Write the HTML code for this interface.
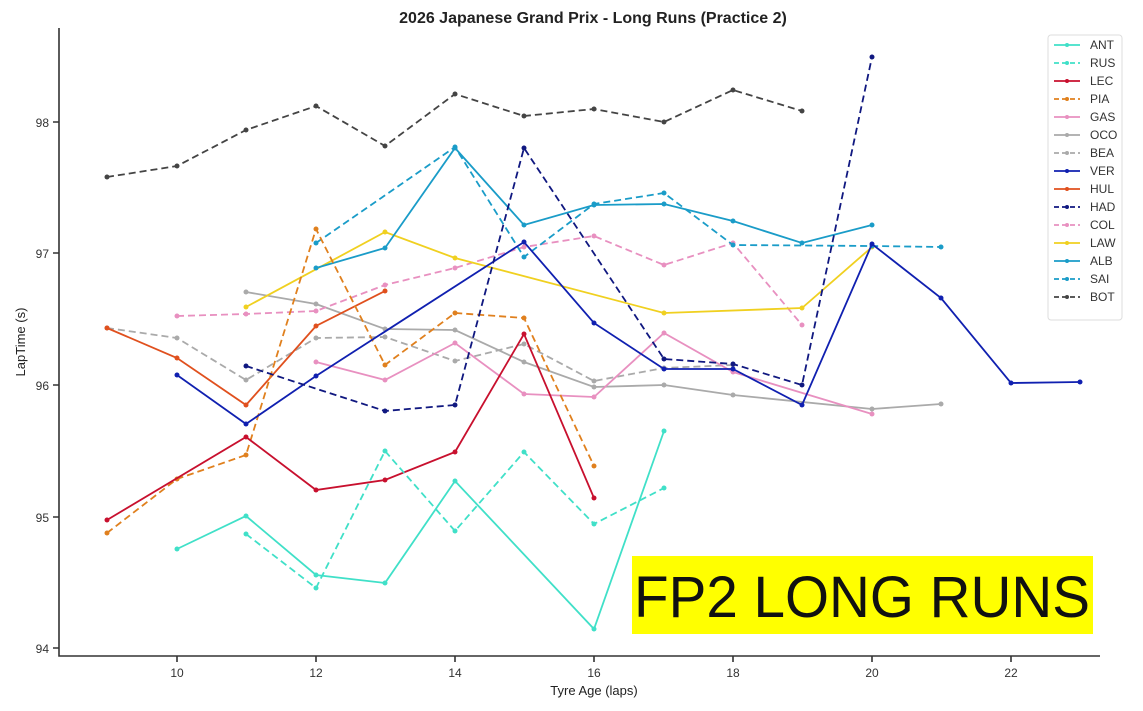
<!DOCTYPE html><html><head><style>body{margin:0;background:#fff}svg{display:block;font-family:"Liberation Sans",sans-serif}</style></head><body>
<svg width="1143" height="711" xmlns="http://www.w3.org/2000/svg">
<defs>
<marker id="m1" viewBox="0 0 6 6" refX="3" refY="3" markerWidth="6" markerHeight="6" markerUnits="userSpaceOnUse"><circle cx="3" cy="3" r="2.5" fill="#444"/></marker>
<marker id="m2" viewBox="0 0 6 6" refX="3" refY="3" markerWidth="6" markerHeight="6" markerUnits="userSpaceOnUse"><circle cx="3" cy="3" r="2.5" fill="#aaa"/></marker>
<marker id="m3" viewBox="0 0 6 6" refX="3" refY="3" markerWidth="6" markerHeight="6" markerUnits="userSpaceOnUse"><circle cx="3" cy="3" r="2.5" fill="#e890c0"/></marker>
<marker id="m4" viewBox="0 0 6 6" refX="3" refY="3" markerWidth="6" markerHeight="6" markerUnits="userSpaceOnUse"><circle cx="3" cy="3" r="2.5" fill="#f0d020"/></marker>
<marker id="m5" viewBox="0 0 6 6" refX="3" refY="3" markerWidth="6" markerHeight="6" markerUnits="userSpaceOnUse"><circle cx="3" cy="3" r="2.5" fill="#1a9cc8"/></marker>
<marker id="m6" viewBox="0 0 6 6" refX="3" refY="3" markerWidth="6" markerHeight="6" markerUnits="userSpaceOnUse"><circle cx="3" cy="3" r="2.5" fill="#e0501e"/></marker>
<marker id="m7" viewBox="0 0 6 6" refX="3" refY="3" markerWidth="6" markerHeight="6" markerUnits="userSpaceOnUse"><circle cx="3" cy="3" r="2.5" fill="#e0801e"/></marker>
<marker id="m8" viewBox="0 0 6 6" refX="3" refY="3" markerWidth="6" markerHeight="6" markerUnits="userSpaceOnUse"><circle cx="3" cy="3" r="2.5" fill="#c8102e"/></marker>
<marker id="m9" viewBox="0 0 6 6" refX="3" refY="3" markerWidth="6" markerHeight="6" markerUnits="userSpaceOnUse"><circle cx="3" cy="3" r="2.5" fill="#1020b0"/></marker>
<marker id="m10" viewBox="0 0 6 6" refX="3" refY="3" markerWidth="6" markerHeight="6" markerUnits="userSpaceOnUse"><circle cx="3" cy="3" r="2.5" fill="#101880"/></marker>
<marker id="m11" viewBox="0 0 6 6" refX="3" refY="3" markerWidth="6" markerHeight="6" markerUnits="userSpaceOnUse"><circle cx="3" cy="3" r="2.5" fill="#40e0c8"/></marker>
</defs>
<rect width="1143" height="711" fill="#fff"/>
<text x="593" y="23" text-anchor="middle" font-size="16" font-weight="bold" fill="#222">2026 Japanese Grand Prix - Long Runs (Practice 2)</text>
<g stroke="#333" stroke-width="1.6" fill="none"><path d="M59 28V656H1100"/>
<path d="M53 122H59M53 253H59M53 385H59M53 517H59M53 648H59M177 656v6M316 656v6M455 656v6M594 656v6M733 656v6M872 656v6M1011 656v6"/></g>
<g font-size="12" fill="#333" text-anchor="end"><text x="49" y="127">98</text><text x="49" y="258">97</text><text x="49" y="390">96</text><text x="49" y="522">95</text><text x="49" y="653">94</text></g>
<g font-size="12" fill="#333" text-anchor="middle"><text x="177" y="677">10</text><text x="316" y="677">12</text><text x="455" y="677">14</text><text x="594" y="677">16</text><text x="733" y="677">18</text><text x="872" y="677">20</text><text x="1011" y="677">22</text></g>
<text x="594" y="695" text-anchor="middle" font-size="13" fill="#222">Tyre Age (laps)</text>
<text transform="translate(25 342) rotate(-90)" text-anchor="middle" font-size="13" fill="#222">LapTime (s)</text>
<rect x="632" y="556" width="461" height="78" fill="#ffff00"/>
<text x="862" y="617" text-anchor="middle" font-size="58" textLength="456" lengthAdjust="spacingAndGlyphs" fill="#111">FP2 LONG RUNS</text>
<g fill="none" stroke-width="1.8">
<polyline marker-start="url(#m1)" marker-mid="url(#m1)" marker-end="url(#m1)" stroke="#444" stroke-dasharray="7,4" points="107,177 177,166 246,130 316,106 385,146 455,94 524,116 594,109 664,122 733,90 802,111"/>
<polyline marker-start="url(#m2)" marker-mid="url(#m2)" marker-end="url(#m2)" stroke="#aaa" points="246,292 316,304 385,329 455,330 524,362 594,387 664,385 733,395 872,409 941,404"/>
<polyline marker-start="url(#m2)" marker-mid="url(#m2)" marker-end="url(#m2)" stroke="#aaa" stroke-dasharray="7,4" points="107,328 177,338 246,380 316,338 385,337 455,361 524,344 594,381 664,368 733,365"/>
<polyline marker-start="url(#m3)" marker-mid="url(#m3)" marker-end="url(#m3)" stroke="#e890c0" points="316,362 385,380 455,343 524,394 594,397 664,333 733,372 872,414"/>
<polyline marker-start="url(#m3)" marker-mid="url(#m3)" marker-end="url(#m3)" stroke="#e890c0" stroke-dasharray="7,4" points="177,316 246,314 316,311 385,285 455,268 524,247 594,236 664,265 733,243 802,325"/>
<polyline marker-start="url(#m4)" marker-mid="url(#m4)" marker-end="url(#m4)" stroke="#f0d020" points="246,307 385,232 455,258 664,313 802,308 872,247"/>
<polyline marker-start="url(#m5)" marker-mid="url(#m5)" marker-end="url(#m5)" stroke="#1a9cc8" points="316,268 385,248 455,148 524,225 594,205 664,204 733,221 802,243 872,225"/>
<polyline marker-start="url(#m5)" marker-mid="url(#m5)" marker-end="url(#m5)" stroke="#1a9cc8" stroke-dasharray="7,4" points="316,243 455,147 524,257 594,204 664,193 733,245 872,246 941,247"/>
<polyline marker-start="url(#m6)" marker-mid="url(#m6)" marker-end="url(#m6)" stroke="#e0501e" points="107,328 177,358 246,405 316,326 385,291"/>
<polyline marker-start="url(#m7)" marker-mid="url(#m7)" marker-end="url(#m7)" stroke="#e0801e" stroke-dasharray="7,4" points="107,533 177,479 246,455 316,229 385,365 455,313 524,318 594,466"/>
<polyline marker-start="url(#m8)" marker-mid="url(#m8)" marker-end="url(#m8)" stroke="#c8102e" points="107,520 246,437 316,490 385,480 455,452 524,334 594,498"/>
<polyline marker-start="url(#m9)" marker-mid="url(#m9)" marker-end="url(#m9)" stroke="#1020b0" points="177,375 246,424 316,376 524,242 594,323 664,369 733,369 802,405 872,244 941,298 1011,383 1080,382"/>
<polyline marker-start="url(#m10)" marker-mid="url(#m10)" marker-end="url(#m10)" stroke="#101880" stroke-dasharray="7,4" points="246,366 385,411 455,405 524,148 664,359 733,364 802,385 872,57"/>
<polyline marker-start="url(#m11)" marker-mid="url(#m11)" marker-end="url(#m11)" stroke="#40e0c8" points="177,549 246,516 316,575 385,583 455,481 594,629 664,431"/>
<polyline marker-start="url(#m11)" marker-mid="url(#m11)" marker-end="url(#m11)" stroke="#40e0c8" stroke-dasharray="7,4" points="246,534 316,588 385,451 455,531 524,452 594,524 664,488"/>
</g>
<rect x="1048" y="35" width="74" height="285" fill="#fff" stroke="#ddd" rx="3"/>
<g font-size="12" fill="#333" stroke-width="1.8">
<g transform="translate(0 45)"><line x1="1054" x2="1080" stroke="#40e0c8"/><circle cx="1067" r="2" fill="#40e0c8"/><text x="1090" y="4">ANT</text></g>
<g transform="translate(0 63)"><line x1="1054" x2="1080" stroke="#40e0c8" stroke-dasharray="5,3"/><circle cx="1067" r="2" fill="#40e0c8"/><text x="1090" y="4">RUS</text></g>
<g transform="translate(0 81)"><line x1="1054" x2="1080" stroke="#c8102e"/><circle cx="1067" r="2" fill="#c8102e"/><text x="1090" y="4">LEC</text></g>
<g transform="translate(0 99)"><line x1="1054" x2="1080" stroke="#e0801e" stroke-dasharray="5,3"/><circle cx="1067" r="2" fill="#e0801e"/><text x="1090" y="4">PIA</text></g>
<g transform="translate(0 117)"><line x1="1054" x2="1080" stroke="#e890c0"/><circle cx="1067" r="2" fill="#e890c0"/><text x="1090" y="4">GAS</text></g>
<g transform="translate(0 135)"><line x1="1054" x2="1080" stroke="#aaa"/><circle cx="1067" r="2" fill="#aaa"/><text x="1090" y="4">OCO</text></g>
<g transform="translate(0 153)"><line x1="1054" x2="1080" stroke="#aaa" stroke-dasharray="5,3"/><circle cx="1067" r="2" fill="#aaa"/><text x="1090" y="4">BEA</text></g>
<g transform="translate(0 171)"><line x1="1054" x2="1080" stroke="#1020b0"/><circle cx="1067" r="2" fill="#1020b0"/><text x="1090" y="4">VER</text></g>
<g transform="translate(0 189)"><line x1="1054" x2="1080" stroke="#e0501e"/><circle cx="1067" r="2" fill="#e0501e"/><text x="1090" y="4">HUL</text></g>
<g transform="translate(0 207)"><line x1="1054" x2="1080" stroke="#101880" stroke-dasharray="5,3"/><circle cx="1067" r="2" fill="#101880"/><text x="1090" y="4">HAD</text></g>
<g transform="translate(0 225)"><line x1="1054" x2="1080" stroke="#e890c0" stroke-dasharray="5,3"/><circle cx="1067" r="2" fill="#e890c0"/><text x="1090" y="4">COL</text></g>
<g transform="translate(0 243)"><line x1="1054" x2="1080" stroke="#f0d020"/><circle cx="1067" r="2" fill="#f0d020"/><text x="1090" y="4">LAW</text></g>
<g transform="translate(0 261)"><line x1="1054" x2="1080" stroke="#1a9cc8"/><circle cx="1067" r="2" fill="#1a9cc8"/><text x="1090" y="4">ALB</text></g>
<g transform="translate(0 279)"><line x1="1054" x2="1080" stroke="#1a9cc8" stroke-dasharray="5,3"/><circle cx="1067" r="2" fill="#1a9cc8"/><text x="1090" y="4">SAI</text></g>
<g transform="translate(0 297)"><line x1="1054" x2="1080" stroke="#444" stroke-dasharray="5,3"/><circle cx="1067" r="2" fill="#444"/><text x="1090" y="4">BOT</text></g>
</g>
</svg></body></html>
